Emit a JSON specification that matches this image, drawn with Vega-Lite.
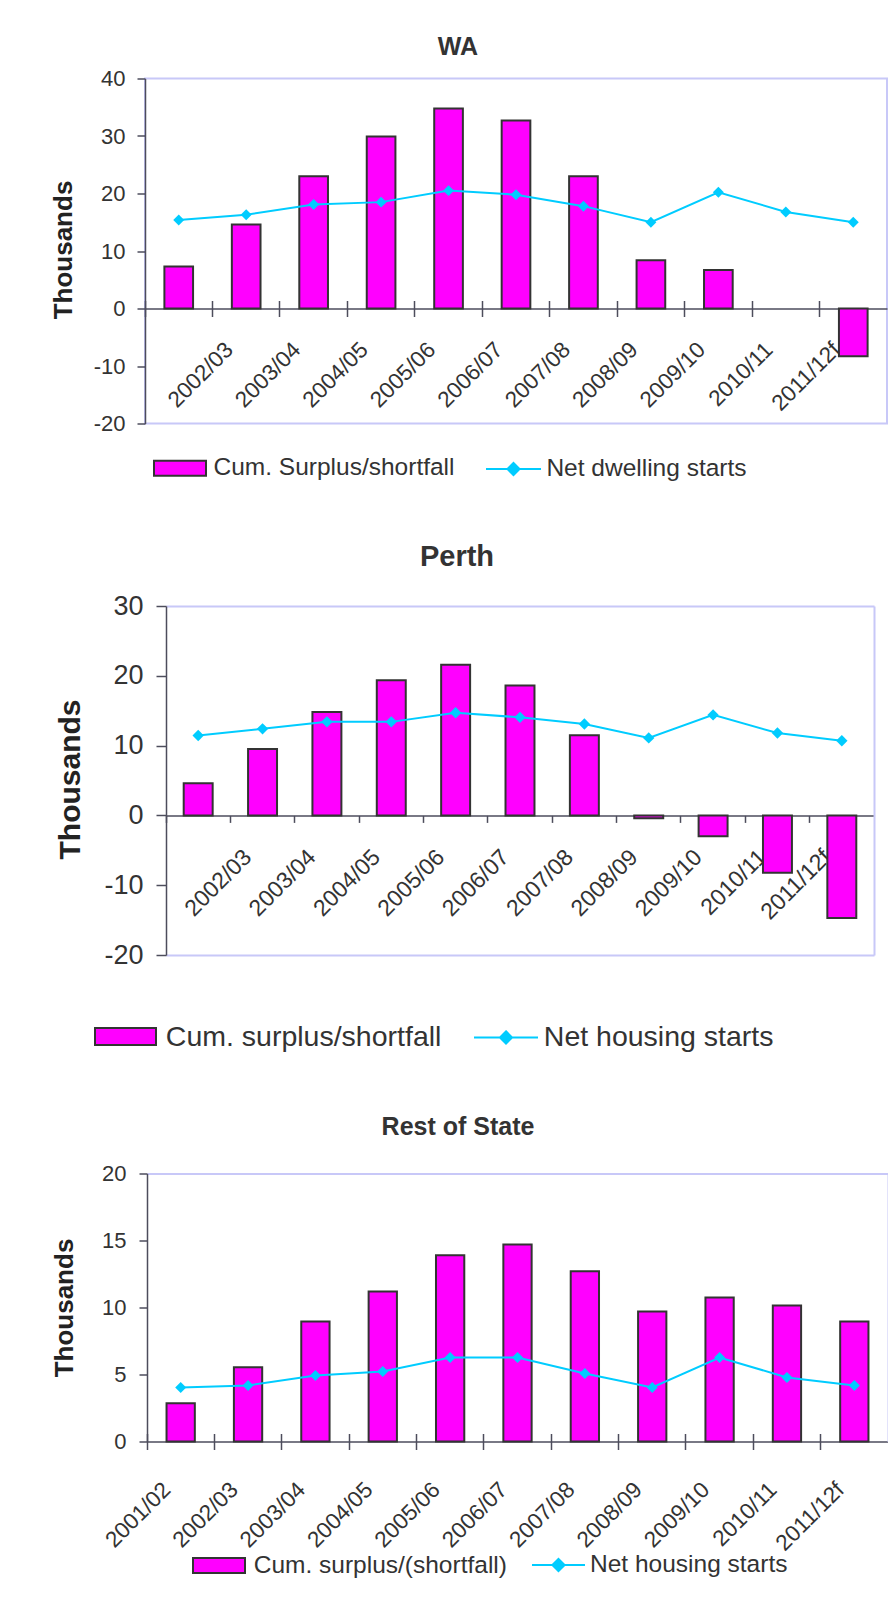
{
  "$schema": "https://vega.github.io/schema/vega-lite/v6.json",
  "background": "white",
  "padding": {"left": 49, "top": 33.5, "right": 0, "bottom": 0},
  "spacing": 61.5,
  "resolve": {
    "scale": {"fill": "independent", "stroke": "independent"},
    "legend": {"fill": "independent", "stroke": "independent"}
  },
  "config": {
    "font": "Liberation Sans",
    "view": {"stroke": "#c8c8f8", "strokeWidth": 2},
    "axis": {
      "labelFont": "Liberation Sans",
      "titleFont": "Liberation Sans",
      "domainColor": "#4d4d5c",
      "tickColor": "#4d4d5c",
      "domainWidth": 1.5,
      "tickWidth": 1.5,
      "labelColor": "#333333",
      "titleColor": "#222222",
      "grid": false
    },
    "axisY": {"labelExpr": "datum.value < 0 ? '-' + (-datum.value) : '' + datum.value"},
    "legend": {
      "labelFont": "Liberation Sans",
      "labelColor": "#333333",
      "labelLimit": 0,
      "padding": 0,
      "title": null
    },
    "title": {"font": "Liberation Sans", "fontWeight": "bold", "color": "#333333", "anchor": "middle", "frame": "group"}
  },
  "datasets": {
    "wa": [
      {"year": "2001/02", "surplus": 7.3, "starts": 15.4},
      {"year": "2002/03", "surplus": 14.6, "starts": 16.3},
      {"year": "2003/04", "surplus": 23.0, "starts": 18.1},
      {"year": "2004/05", "surplus": 29.9, "starts": 18.5},
      {"year": "2005/06", "surplus": 34.8, "starts": 20.5},
      {"year": "2006/07", "surplus": 32.7, "starts": 19.8},
      {"year": "2007/08", "surplus": 23.0, "starts": 17.8},
      {"year": "2008/09", "surplus": 8.4, "starts": 15.0},
      {"year": "2009/10", "surplus": 6.7, "starts": 20.2},
      {"year": "2010/11", "surplus": null, "starts": 16.8},
      {"year": "2011/12f", "surplus": -8.3, "starts": 15.0}
    ],
    "perth": [
      {"year": "2001/02", "surplus": 4.6, "starts": 11.45},
      {"year": "2002/03", "surplus": 9.5, "starts": 12.4},
      {"year": "2003/04", "surplus": 14.8, "starts": 13.4},
      {"year": "2004/05", "surplus": 19.35, "starts": 13.4},
      {"year": "2005/06", "surplus": 21.6, "starts": 14.7},
      {"year": "2006/07", "surplus": 18.6, "starts": 14.05},
      {"year": "2007/08", "surplus": 11.5, "starts": 13.1},
      {"year": "2008/09", "surplus": -0.4, "starts": 11.1},
      {"year": "2009/10", "surplus": -3.0, "starts": 14.4},
      {"year": "2010/11", "surplus": -8.2, "starts": 11.8},
      {"year": "2011/12f", "surplus": -14.7, "starts": 10.7}
    ],
    "rest": [
      {"year": "2001/02", "surplus": 2.86, "starts": 4.03},
      {"year": "2002/03", "surplus": 5.55, "starts": 4.18},
      {"year": "2003/04", "surplus": 8.96, "starts": 4.93},
      {"year": "2004/05", "surplus": 11.2, "starts": 5.22},
      {"year": "2005/06", "surplus": 13.9, "starts": 6.27},
      {"year": "2006/07", "surplus": 14.7, "starts": 6.27},
      {"year": "2007/08", "surplus": 12.7, "starts": 5.07},
      {"year": "2008/09", "surplus": 9.7, "starts": 4.03},
      {"year": "2009/10", "surplus": 10.75, "starts": 6.27},
      {"year": "2010/11", "surplus": 10.15, "starts": 4.78},
      {"year": "2011/12f", "surplus": 8.96, "starts": 4.18}
    ]
  },
  "vconcat": [
    {
      "title": {"text": "WA", "fontSize": 25, "dx": -58, "offset": 7.6},
      "width": 742,
      "height": 345,
      "data": {"name": "wa"},
      "resolve": {"axis": {"x": "independent"}},
      "layer": [
        {
          "mark": {"type": "bar", "stroke": "#333333", "strokeWidth": 2, "width": {"band": 0.425}},
          "encoding": {
            "x": {
              "field": "year", "type": "nominal",
              "scale": {"domain": ["2001/02", "2002/03", "2003/04", "2004/05", "2005/06", "2006/07", "2007/08", "2008/09", "2009/10", "2010/11", "2011/12f"], "paddingInner": 0, "paddingOuter": 0},
              "axis": {
                "orient": "bottom", "offset": -115, "bandPosition": 0, "title": null,
                "labelAngle": -45, "labelFontSize": 22.5, "labelOffset": -24.5, "labelPadding": 21.5,
                "tickSize": 8, "labelExpr": "datum.value == '2001/02' ? '' : datum.value"
              }
            },
            "y": {
              "field": "surplus", "type": "quantitative",
              "scale": {"domain": [-20, 40], "nice": false},
              "axis": {
                "values": [-20, -10, 0, 10, 20, 30, 40], "tickSize": 8, "labelPadding": 12,
                "labelFontSize": 22, "title": "Thousands", "titleFontSize": 26, "titleFontWeight": "bold",
                "titleAngle": 270, "titleBaseline": "alphabetic", "titleAlign": "center",
                "titleX": -74, "titleY": 171
              }
            },
            "fill": {
              "datum": "Cum. Surplus/shortfall",
              "scale": {"range": ["#ff00ff"]},
              "legend": {
                "orient": "none", "legendX": 8, "legendY": 362.7,
                "symbolType": "M-1,-0.29H1V0.29H-1Z", "symbolSize": 2704,
                "symbolStrokeColor": "#333333", "symbolStrokeWidth": 2,
                "labelFontSize": 24.5, "labelOffset": 6.5
              }
            }
          }
        },
        {
          "mark": {"type": "line", "strokeWidth": 2},
          "encoding": {
            "x": {
              "field": "year", "type": "nominal",
              "axis": {"orient": "top", "offset": -230, "bandPosition": 0, "labels": false, "domain": false, "tickSize": 8, "title": null}
            },
            "y": {"field": "starts", "type": "quantitative", "scale": {"domain": [-20, 40], "nice": false}},
            "stroke": {
              "datum": "Net dwelling starts",
              "scale": {"range": ["#00ccff"]},
              "legend": {
                "orient": "none", "legendX": 340, "legendY": 362,
                "symbolType": "M-1,0H1M0,-0.22L0.22,0L0,0.22L-0.22,0Z", "symbolSize": 3025,
                "symbolFillColor": "#00ccff", "symbolStrokeWidth": 2,
                "labelFontSize": 24.5, "labelOffset": 4.4
              }
            }
          }
        },
        {
          "mark": {"type": "point", "shape": "diamond", "filled": true, "size": 120, "color": "#00ccff", "opacity": 1},
          "encoding": {
            "x": {"field": "year", "type": "nominal", "axis": null},
            "y": {"field": "starts", "type": "quantitative", "scale": {"domain": [-20, 40], "nice": false}}
          }
        }
      ]
    },
    {
      "title": {"text": "Perth", "fontSize": 29, "dx": -52.5, "offset": 20},
      "width": 729,
      "height": 349,
      "view": {"stroke": null},
      "data": {"name": "perth"},
      "resolve": {"axis": {"x": "independent", "y": "independent"}},
      "layer": [
        {
          "mark": {"type": "bar", "stroke": "#333333", "strokeWidth": 2, "width": {"band": 0.45}},
          "encoding": {
            "x": {
              "field": "year", "type": "nominal",
              "scale": {"domain": ["2001/02", "2002/03", "2003/04", "2004/05", "2005/06", "2006/07", "2007/08", "2008/09", "2009/10", "2010/11", "2011/12f"], "range": [21, 729], "paddingInner": 0, "paddingOuter": 0},
              "axis": {
                "orient": "bottom", "offset": -139.6, "bandPosition": 0, "title": null,
                "labelAngle": -45, "labelFontSize": 23, "labelOffset": -22.5, "labelPadding": 23,
                "tickSize": 7, "labelExpr": "datum.value == '2001/02' ? '' : datum.value"
              }
            },
            "y": {
              "field": "surplus", "type": "quantitative",
              "scale": {"domain": [-20, 30], "nice": false},
              "axis": {
                "orient": "left", "offset": -21,
                "values": [-20, -10, 0, 10, 20, 30], "tickSize": 10, "labelPadding": 13,
                "labelFontSize": 27, "title": "Thousands", "titleFontSize": 30, "titleFontWeight": "bold",
                "titleAngle": 270, "titleBaseline": "alphabetic", "titleAlign": "center",
                "titleX": -87, "titleY": 173
              }
            },
            "fill": {
              "datum": "Cum. surplus/shortfall",
              "scale": {"range": ["#ff00ff"]},
              "legend": {
                "orient": "none", "legendX": -51, "legendY": 399,
                "symbolType": "M-1,-0.28H1V0.28H-1Z", "symbolSize": 3721,
                "symbolStrokeColor": "#333333", "symbolStrokeWidth": 2,
                "labelFontSize": 28.5, "labelOffset": 8.8
              }
            }
          }
        },
        {
          "mark": {"type": "line", "strokeWidth": 2},
          "encoding": {
            "x": {
              "field": "year", "type": "nominal",
              "axis": {"orient": "top", "offset": 0, "labels": false, "ticks": false, "domainColor": "#c8c8f8", "domainWidth": 2, "title": null}
            },
            "y": {
              "field": "starts", "type": "quantitative", "scale": {"domain": [-20, 30], "nice": false},
              "axis": {"orient": "right", "labels": false, "ticks": false, "domainColor": "#c8c8f8", "domainWidth": 2, "title": null}
            },
            "stroke": {
              "datum": "Net housing starts",
              "scale": {"range": ["#00ccff"]},
              "legend": {
                "orient": "none", "legendX": 328, "legendY": 398.4,
                "symbolType": "M-1,0H1M0,-0.19L0.19,0L0,0.19L-0.19,0Z", "symbolSize": 4096,
                "symbolFillColor": "#00ccff", "symbolStrokeWidth": 2,
                "labelFontSize": 28.5, "labelOffset": 4.8
              }
            }
          }
        },
        {
          "mark": {"type": "point", "shape": "diamond", "filled": true, "size": 130, "color": "#00ccff", "opacity": 1},
          "encoding": {
            "x": {
              "field": "year", "type": "nominal",
              "axis": {"orient": "bottom", "offset": 0, "labels": false, "ticks": false, "domainColor": "#c8c8f8", "domainWidth": 2, "title": null}
            },
            "y": {"field": "starts", "type": "quantitative", "scale": {"domain": [-20, 30], "nice": false}, "axis": null}
          }
        }
      ]
    },
    {
      "title": {"text": "Rest of State", "fontSize": 25, "dx": -58.5, "offset": 22.5},
      "width": 743,
      "height": 268,
      "view": {"stroke": null},
      "data": {"name": "rest"},
      "resolve": {"axis": {"x": "independent", "y": "independent"}},
      "layer": [
        {
          "mark": {"type": "bar", "stroke": "#333333", "strokeWidth": 2, "width": {"band": 0.42}},
          "encoding": {
            "x": {
              "field": "year", "type": "nominal",
              "scale": {"domain": ["2001/02", "2002/03", "2003/04", "2004/05", "2005/06", "2006/07", "2007/08", "2008/09", "2009/10", "2010/11", "2011/12f"], "range": [2, 743], "paddingInner": 0, "paddingOuter": 0},
              "axis": {
                "orient": "bottom", "bandPosition": 0, "title": null,
                "labelAngle": -45, "labelFontSize": 22.5, "labelOffset": -21.5, "labelPadding": 28.5,
                "tickSize": 8
              }
            },
            "y": {
              "field": "surplus", "type": "quantitative",
              "scale": {"domain": [0, 20], "nice": false},
              "axis": {
                "orient": "left", "offset": -2,
                "values": [0, 5, 10, 15, 20], "tickSize": 8, "labelPadding": 13,
                "labelFontSize": 22, "title": "Thousands", "titleFontSize": 26, "titleFontWeight": "bold",
                "titleAngle": 270, "titleBaseline": "alphabetic", "titleAlign": "center",
                "titleX": -75, "titleY": 134
              }
            },
            "fill": {
              "datum": "Cum. surplus/(shortfall)",
              "scale": {"range": ["#ff00ff"]},
              "legend": {
                "orient": "none", "legendX": 47, "legendY": 365,
                "symbolType": "M-1,-0.29H1V0.29H-1Z", "symbolSize": 2704,
                "symbolStrokeColor": "#333333", "symbolStrokeWidth": 2,
                "labelFontSize": 24.5, "labelOffset": 7.7
              }
            }
          }
        },
        {
          "mark": {"type": "line", "strokeWidth": 2},
          "encoding": {
            "x": {
              "field": "year", "type": "nominal",
              "axis": {"orient": "top", "offset": -268, "bandPosition": 0, "labels": false, "domain": false, "tickSize": 8, "title": null}
            },
            "y": {
              "field": "starts", "type": "quantitative", "scale": {"domain": [0, 20], "nice": false},
              "axis": {"orient": "right", "labels": false, "ticks": false, "domainColor": "#c8c8f8", "domainWidth": 2, "title": null}
            },
            "stroke": {
              "datum": "Net housing starts",
              "scale": {"range": ["#00ccff"]},
              "legend": {
                "orient": "none", "legendX": 386, "legendY": 364,
                "symbolType": "M-1,0H1M0,-0.23L0.23,0L0,0.23L-0.23,0Z", "symbolSize": 2809,
                "symbolFillColor": "#00ccff", "symbolStrokeWidth": 2,
                "labelFontSize": 24.5, "labelOffset": 4
              }
            }
          }
        },
        {
          "mark": {"type": "point", "shape": "diamond", "filled": true, "size": 120, "color": "#00ccff", "opacity": 1},
          "encoding": {
            "x": {
              "field": "year", "type": "nominal",
              "axis": {"orient": "top", "offset": 0, "labels": false, "ticks": false, "domainColor": "#c8c8f8", "domainWidth": 2, "title": null}
            },
            "y": {"field": "starts", "type": "quantitative", "scale": {"domain": [0, 20], "nice": false}, "axis": null}
          }
        }
      ]
    }
  ]
}
